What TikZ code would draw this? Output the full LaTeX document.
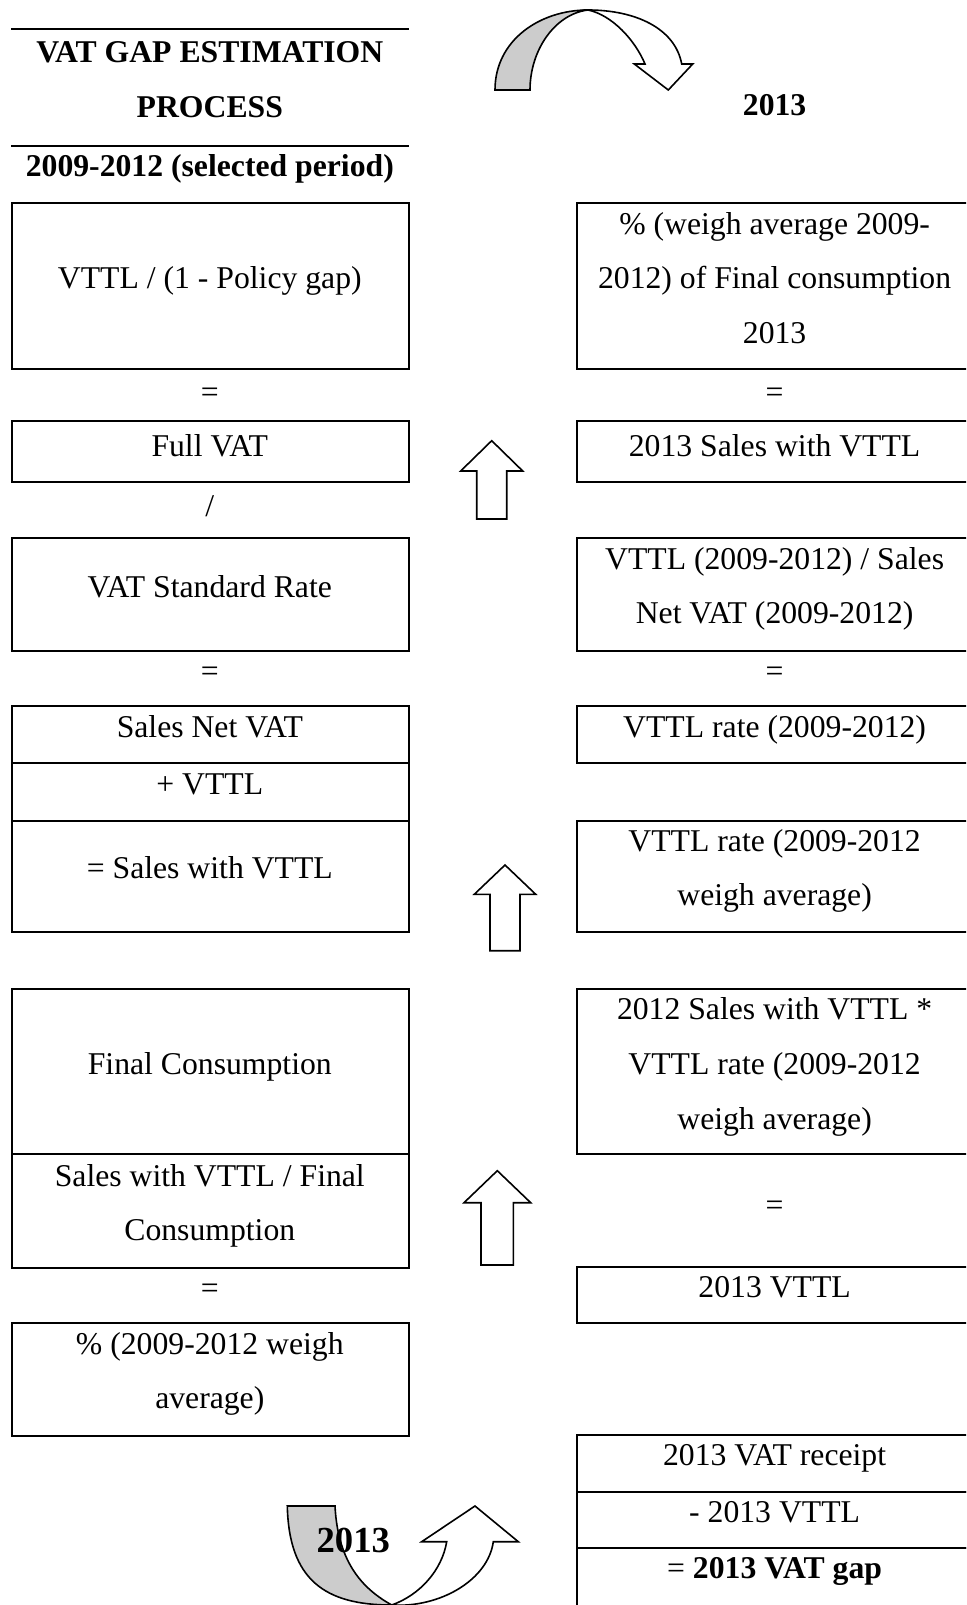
\documentclass[tikz,border=0pt]{standalone}
\usepackage{fontspec}
\setmainfont{Liberation Serif}
\usetikzlibrary{fit}
\begin{document}
\begin{tikzpicture}[x=0.5pt,y=-0.5pt,
  cell/.style={draw, line width=1pt, inner sep=0pt, rectangle},
  txt/.style={font=\fontsize{15.85}{27.35}\selectfont, inner sep=0pt, align=center},
  btxt/.style={font=\fontsize{15.85}{27.35}\selectfont\bfseries, inner sep=0pt, align=center},
  bigtxt/.style={font=\fontsize{18.35}{22}\selectfont\bfseries, inner sep=0pt},
  rule/.style={line width=1pt},
  blockarrow/.style={draw, line width=0.8pt, fill=white, line join=miter},
  backband/.style={draw, line width=0.8pt, fill=gray!40, line join=miter}]
\useasboundingbox (0,0) rectangle (966,1605);
\clip (0,0) rectangle (966,1605);

% header
\draw[rule] (11,29.3) -- (409,29.3);
\draw[rule] (11,145.7) -- (409,145.7);
\node[btxt] (title) at (209.8,80) {VAT GAP ESTIMATION\\PROCESS};
\node[btxt] (period) at (209.8,168.5) {2009-2012 (selected period)};
\node[btxt] (year) at (774.6,105.4) {2013};

% left column boxes
\node[cell, fit={(12.3,202.6) (409,369.4)}] (L1) {};
\node[cell, fit={(12.3,420.6) (409,482)}] (L2) {};
\node[cell, fit={(12.3,538) (409,651)}] (L3) {};
\node[cell, fit={(12.3,706) (409,763.4)}] (L4a) {};
\node[cell, fit={(12.3,763.4) (409,820.7)}] (L4b) {};
\node[cell, fit={(12.3,820.7) (409,932.2)}] (L4c) {};
\node[cell, fit={(12.3,988.5) (409,1154.3)}] (L5a) {};
\node[cell, fit={(12.3,1154.3) (409,1267.6)}] (L5b) {};
\node[cell, fit={(12.3,1323.3) (409,1435.5)}] (L6) {};

% right column boxes
\node[cell, fit={(577,202.6) (990,369.4)}] (R1) {};
\node[cell, fit={(577,420.6) (990,482)}] (R2) {};
\node[cell, fit={(577,538) (990,651)}] (R3) {};
\node[cell, fit={(577,706) (990,763.4)}] (R4) {};
\node[cell, fit={(577,820.7) (990,932.2)}] (R5) {};
\node[cell, fit={(577,988.5) (990,1154.3)}] (R6) {};
\node[cell, fit={(577,1267.3) (990,1323.3)}] (R7) {};
\node[cell, fit={(577,1435) (990,1491.7)}] (R8a) {};
\node[cell, fit={(577,1491.7) (990,1547.7)}] (R8b) {};
\node[cell, fit={(577,1547.7) (990,1620)}] (R8c) {};

% left texts
\node[txt] (t1) at (209.8,281) {VTTL / (1 - Policy gap)};
\node[txt] (e1) at (209.8,395) {=};
\node[txt] (t2) at (209.8,446.2) {Full VAT};
\node[txt] (s1) at (209.8,506.5) {/};
\node[txt] (t3) at (209.8,586.4) {VAT Standard Rate};
\node[txt] (e2) at (209.8,674) {=};
\node[txt] (t4) at (209.8,726.5) {Sales Net VAT};
\node[txt] (t5) at (209.8,784) {+ VTTL};
\node[txt] (t6) at (209.8,868) {= Sales with VTTL};
\node[txt] (t7) at (209.8,1067) {Final Consumption};
\node[txt] (t8) at (209.8,1206) {Sales with VTTL / Final\\Consumption};
\node[txt] (e3) at (209.8,1291) {=};
\node[txt] (t9) at (209.8,1374) {\% (2009-2012 weigh\\average)};

% right texts
\node[txt] (r1) at (774.6,278) {\% (weigh average 2009-\\2012) of Final consumption\\2013};
\node[txt] (e4) at (774.6,395) {=};
\node[txt] (r2) at (774.6,446.2) {2013 Sales with VTTL};
\node[txt] (r3) at (774.6,589) {VTTL (2009-2012) / Sales\\Net VAT (2009-2012)};
\node[txt] (e5) at (774.6,674) {=};
\node[txt] (r4) at (774.6,729.5) {VTTL rate (2009-2012)};
\node[txt] (r5) at (774.6,871) {VTTL rate (2009-2012\\weigh average)};
\node[txt] (r6) at (774.6,1067) {2012 Sales with VTTL *\\VTTL rate (2009-2012\\weigh average)};
\node[txt] (e6) at (774.6,1208) {=};
\node[txt] (r7) at (774.6,1287.3) {2013 VTTL};
\node[txt] (r8) at (774.6,1458) {2013 VAT receipt};
\node[txt] (r9) at (774.6,1512.4) {- 2013 VTTL};
\node[txt] (r10) at (774.6,1571) {= \textbf{2013 VAT gap}};

% up block arrows
\draw[blockarrow] (476.7,519) -- (476.7,471) -- (460.7,471) -- (491.7,440.7) -- (522.7,471) -- (506.7,471) -- (506.7,519) -- cycle;
\draw[blockarrow] (490,950.7) -- (490,894.3) -- (474.3,894.3) -- (505,865) -- (535.7,894.3) -- (520,894.3) -- (520,950.7) -- cycle;
\draw[blockarrow] (481,1265) -- (481,1202.7) -- (464,1202.7) -- (497.3,1170.7) -- (530.7,1202.7) -- (513.3,1202.7) -- (513.3,1265) -- cycle;

% top curved arrow
\draw[backband] (495,90) .. controls (495,40) and (540,10) .. (588,10)
  .. controls (555,14) and (530,50) .. (530,90) -- cycle;
\draw[blockarrow] (588,10) .. controls (635,10) and (675,28) .. (681.7,64)
  -- (692.7,64) -- (668.3,90) -- (634.3,64) -- (645,64)
  .. controls (635,40) and (612,15) .. (588,10) -- cycle;

% bottom curved arrow
\draw[backband] (287.3,1506) .. controls (289,1580) and (325,1605) .. (391.7,1605)
  .. controls (365,1590) and (338,1565) .. (335,1506) -- cycle;
\draw[blockarrow] (391.7,1605) .. controls (420,1595) and (442,1570) .. (446.7,1541.7)
  -- (421.7,1541.7) -- (475,1506) -- (518.3,1541.7) -- (493.3,1541.7)
  .. controls (488,1580) and (440,1608) .. (391.7,1605) -- cycle;
\node[bigtxt] (byear) at (353.3,1540) {2013};
\end{tikzpicture}
\end{document}
